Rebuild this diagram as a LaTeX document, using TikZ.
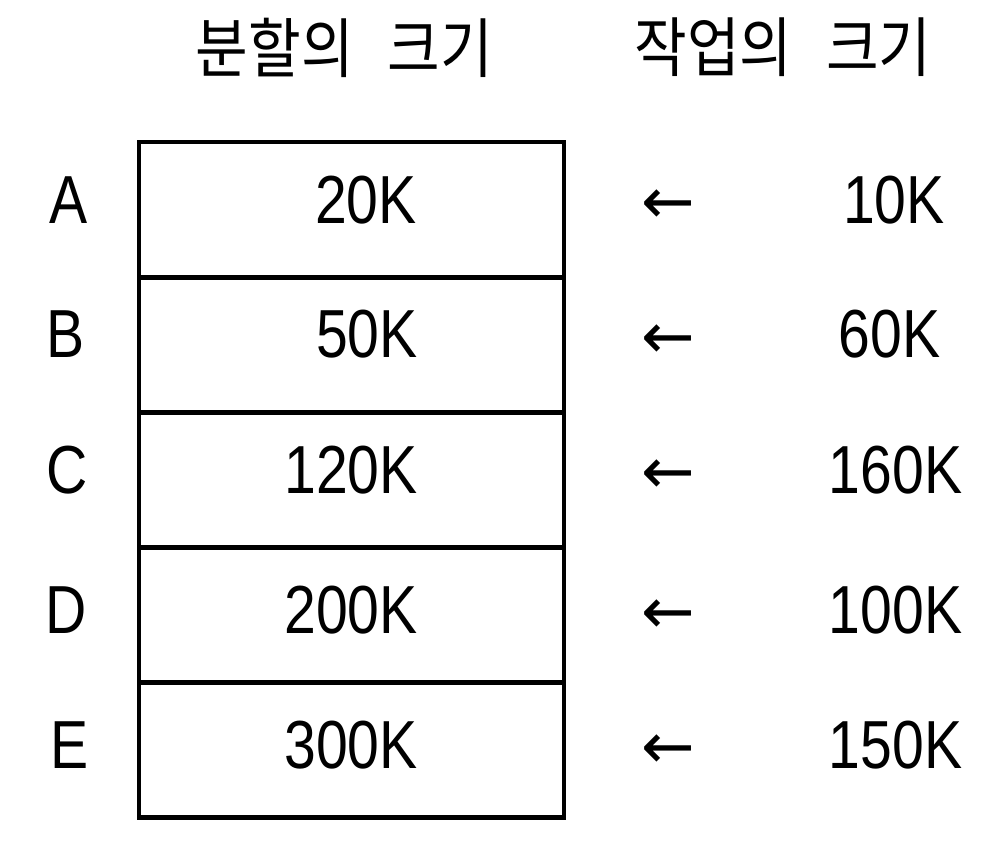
\documentclass[tikz,border=0pt]{standalone}
\usepackage{fontspec}
\newfontfamily\numfont[FakeStretch=0.84]{Liberation Sans}
\newfontfamily\hfont[FakeStretch=0.88]{Noto Sans CJK KR}
\newfontfamily\arrfont{DejaVu Sans}
\begin{document}
\begin{tikzpicture}[x=1pt,y=-1pt,
  rowbox/.style={draw,line width=4.5pt,minimum width=425pt,minimum height=135pt,inner sep=0pt},
  lbl/.style={inner sep=0pt,font=\numfont\fontsize{68}{72}\selectfont},
  val/.style={lbl,anchor=east},
  arr/.style={inner sep=0pt,font=\arrfont\fontsize{64}{70}\selectfont},
  head/.style={inner sep=0pt,font=\hfont\fontsize{65}{70}\selectfont}]
\useasboundingbox (0,0) rectangle (1000,840);
\fill[white] (0,0) rectangle (1000,840);
% headers
\node[head] (h1) at (344.5,47.5) {분할의\hspace{34pt}크기};
\node[head] (h2) at (783,47.5) {작업의\hspace{34pt}크기};
% rows
\node[rowbox] (rA) at (351.5,209.5) {};
\node[rowbox] (rB) at (351.5,345) {};
\node[rowbox] (rC) at (351.5,480) {};
\node[rowbox] (rD) at (351.5,615) {};
\node[rowbox] (rE) at (351.5,750) {};
% letters
\node[lbl] (lA) at (68.5,200) {A};
\node[lbl] (lB) at (66,334.5) {B};
\node[lbl] (lC) at (67.5,470) {C};
\node[lbl] (lD) at (66,610) {D};
\node[lbl] (lE) at (69.5,745) {E};
% partition sizes
\node[val] (vA) at (417,200) {20K};
\node[val] (vB) at (418,334.5) {50K};
\node[val] (vC) at (418,470) {120K};
\node[val] (vD) at (418,610) {200K};
\node[val] (vE) at (418,745) {300K};
% arrows
\node[arr] (aA) at (668,207) {←};
\node[arr] (aB) at (668,342) {←};
\node[arr] (aC) at (668,477) {←};
\node[arr] (aD) at (668,617) {←};
\node[arr] (aE) at (668,752) {←};
% job sizes
\node[lbl] (jA) at (894,200) {10K};
\node[lbl] (jB) at (889.5,334.5) {60K};
\node[lbl] (jC) at (895.5,470) {160K};
\node[lbl] (jD) at (895.5,610) {100K};
\node[lbl] (jE) at (895.5,745) {150K};
\end{tikzpicture}
\end{document}
